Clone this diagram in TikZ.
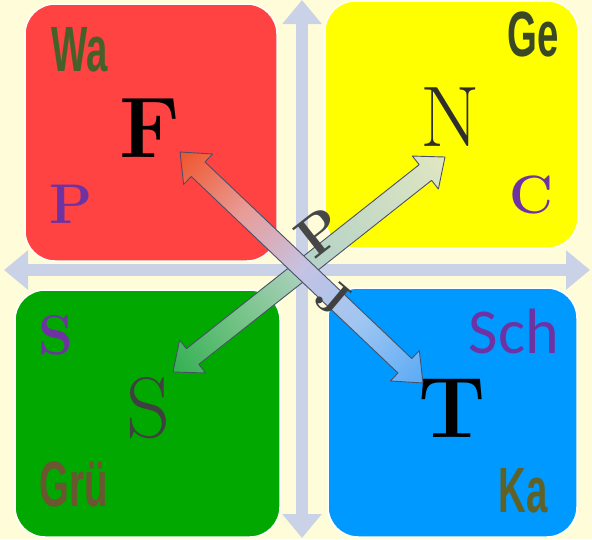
\documentclass[tikz,border=0pt]{standalone}
\usepackage{fontspec}
\usetikzlibrary{calc,arrows.meta}
\newfontfamily\condfont{Liberation Sans}[FakeStretch=0.6]
\newfontfamily\calfont{Carlito}

\definecolor{paper}{HTML}{FFFCDA}
\definecolor{axisgray}{HTML}{C9D2E6}
\definecolor{redq}{HTML}{FF4242}
\definecolor{yellowq}{HTML}{FFFF00}
\definecolor{greenq}{HTML}{00A800}
\definecolor{blueq}{HTML}{0099FF}
\definecolor{purpleq}{HTML}{6E32A2}
\definecolor{darkolive}{HTML}{46602A}
\definecolor{darkgreen}{HTML}{3A4826}
\definecolor{brownolive}{HTML}{6A5630}
\definecolor{khaki}{HTML}{5E6228}
\definecolor{arrline}{HTML}{4A5068}
\definecolor{ftA}{HTML}{F0542A}
\definecolor{ftB}{HTML}{E89C98}
\definecolor{ftC}{HTML}{C6C2E2}
\definecolor{ftD}{HTML}{9EC6F2}
\definecolor{ftE}{HTML}{5AAAF5}
\definecolor{snA}{HTML}{34B052}
\definecolor{snB}{HTML}{78C48A}
\definecolor{snC}{HTML}{B4D2C6}
\definecolor{snD}{HTML}{E0E6C2}

\pgfdeclarehorizontalshading{ftshade}{100bp}{color(0bp)=(ftA); color(25bp)=(ftA); color(38bp)=(ftB); color(50bp)=(ftC); color(62bp)=(ftD); color(75bp)=(ftE); color(100bp)=(ftE)}
\pgfdeclarehorizontalshading{snshade}{100bp}{color(0bp)=(snA); color(25bp)=(snA); color(38bp)=(snB); color(50bp)=(snC); color(75bp)=(snD); color(100bp)=(snD)}

% fat double arrow between two points, shading runs from #1 to #2
\def\fatarrow#1#2#3{%
  \path let \p1=(#1), \p2=(#2) in \pgfextra{%
    \pgfmathsetmacro\arang{atan2(\y2-\y1,\x2-\x1)}\xdef\arang{\arang}%
    \pgfmathsetmacro\arlen{veclen(\x2-\x1,\y2-\y1)}\xdef\arlen{\arlen}};
  \shade[shading=#3, draw=arrline, line width=0.9pt, line join=round,
         transform canvas={shift={(#1)},rotate=\arang}]
    (0,0) -- (25,21) -- (25,10) -- (\arlen-25,10) -- (\arlen-25,21) -- (\arlen,0)
    -- (\arlen-25,-21) -- (\arlen-25,-10) -- (25,-10) -- (25,-21) -- cycle;
}

\begin{document}
\begin{tikzpicture}[x=1pt,y=-1pt,
    quad/.style={rectangle, rounded corners=30pt, draw=white, line width=1.5pt, inner sep=0pt},
    axisline/.style={draw=axisgray, line width=12pt,
      {Triangle[width=38pt,length=24pt]}-{Triangle[width=38pt,length=24pt]}},
    bigletter/.style={inner sep=0pt, font=\fontsize{86}{86}\selectfont},
    tag/.style={inner sep=0pt, font=\condfont\bfseries\fontsize{64}{64}\selectfont},
    cornerletter/.style={inner sep=0pt, text=purpleq}]
  %%%%% START %%%%%
  \useasboundingbox (0,0) rectangle (592,539);
  \fill[paper] (0,0) rectangle (592,539);

  % axes
  \coordinate (axW) at (4,270);
  \coordinate (axE) at (590,270);
  \coordinate (axN) at (302,0);
  \coordinate (axS) at (302,538);
  \draw[axisline] (axW) -- (axE);
  \draw[axisline] (axN) -- (axS);

  % quadrants
  \node[quad, fill=redq, minimum width=252pt, minimum height=257pt] (redbox) at (151,132.5) {};
  \node[quad, fill=yellowq, minimum width=253pt, minimum height=247pt] (yellowbox) at (451.5,124.5) {};
  \node[quad, fill=greenq, minimum width=265pt, minimum height=247pt] (greenbox) at (147.5,413.5) {};
  \node[quad, fill=blueq, minimum width=249pt, minimum height=249pt] (bluebox) at (452.5,412.5) {};

  % main letters
  \node[bigletter, font=\bfseries\fontsize{86}{86}\selectfont] (F) at (150,128) {F};
  \node[bigletter, text=black!82] (N) at (450,117) {N};
  \node[bigletter, text=black!75] (S) at (148,408) {S};
  \node[bigletter, font=\bfseries\fontsize{86}{86}\selectfont] (T) at (452,408) {T};

  % arrow ends
  \coordinate (Ftip) at ($(F)+(30,24)$);
  \coordinate (Ttip) at ($(T)+(-29,-25)$);
  \coordinate (Stip) at ($(S)+(25,-36)$);
  \coordinate (Ntip) at ($(N)+(-5,40)$);
  \fatarrow{Stip}{Ntip}{snshade}
  \node[inner sep=0pt, rotate=38, text=black!72, font=\bfseries\fontsize{56}{56}\selectfont] (Plabel) at (320,232) {P};
  \fatarrow{Ftip}{Ttip}{ftshade}
  \node[inner sep=0pt, rotate=-40, text=black!75, font=\bfseries\fontsize{48}{48}\selectfont] (Jlabel) at (334,298) {J};

  % corner words
  \node[tag, text=darkolive] (wa) at (80,50) {Wa};
  \node[tag, text=darkgreen] (ge) at (533,34) {Ge};
  \node[tag, text=brownolive] (gru) at (74,484) {Grü};
  \node[tag, text=khaki] (ka) at (523,491) {Ka};
  \node[cornerletter, font=\bfseries\fontsize{56}{56}\selectfont] (pmark) at (71,204) {P};
  \node[cornerletter, font=\bfseries\fontsize{54}{54}\selectfont] (cmark) at (531,195) {C};
  \node[cornerletter, font=\bfseries\fontsize{56}{56}\selectfont] (smark) at (56,335) {S};
  \node[cornerletter, font=\calfont\fontsize{64}{64}\selectfont] (schmark) at (514,331) {Sch};
  %%%%% END %%%%%
\end{tikzpicture}
\end{document}
